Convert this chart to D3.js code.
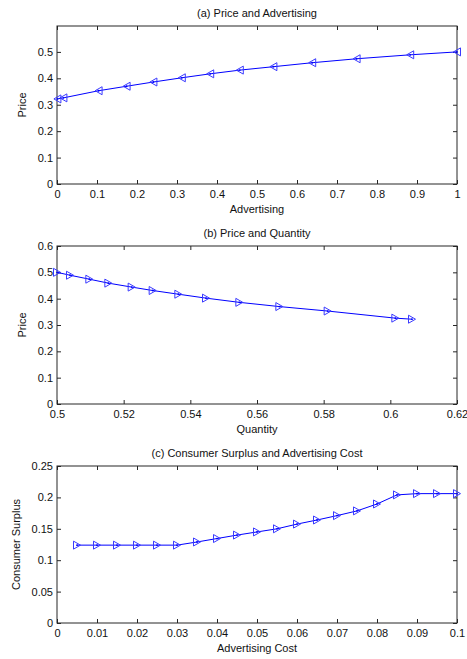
<!DOCTYPE html>
<html>
<head>
<meta charset="utf-8">
<script src="https://cdn.jsdelivr.net/npm/d3@7"></script>
<style>
  html, body { margin: 0; padding: 0; background: #fff; }
  svg { display: block; font-family: Arial, "Liberation Sans", sans-serif; }
</style>
</head>
<body>
<svg id="chart" width="467" height="659"></svg>
<script>
// Equilibrium path, ordered by advertising level
const advertising = [0.001, 0.016, 0.104, 0.174, 0.241, 0.312, 0.383, 0.457, 0.541, 0.638, 0.749, 0.883, 1.0];
const price       = [0.322, 0.326, 0.353, 0.370, 0.386, 0.402, 0.417, 0.431, 0.444, 0.459, 0.474, 0.489, 0.500];
const quantity    = [0.6065, 0.6015, 0.5812, 0.5667, 0.5547, 0.5447, 0.5364, 0.5287, 0.5224, 0.5154, 0.5097, 0.5039, 0.500];

// Consumer surplus against advertising cost
const adCost  = [0.005, 0.01, 0.015, 0.02, 0.025, 0.03, 0.035, 0.04, 0.045, 0.05,
                 0.055, 0.06, 0.065, 0.07, 0.075, 0.08, 0.085, 0.09, 0.095, 0.1];
const surplus = [0.124, 0.124, 0.124, 0.124, 0.124, 0.124, 0.129, 0.1345, 0.140, 0.145,
                 0.150, 0.1575, 0.164, 0.171, 0.1785, 0.1895, 0.204, 0.206, 0.206, 0.206];

// Tick values
const ticksAdvX = [0, 0.1, 0.2, 0.3, 0.4, 0.5, 0.6, 0.7, 0.8, 0.9, 1];
const ticksAdvY = [0, 0.1, 0.2, 0.3, 0.4, 0.5];
const ticksQtyX = [0.5, 0.52, 0.54, 0.56, 0.58, 0.6, 0.62];
const ticksQtyY = [0, 0.1, 0.2, 0.3, 0.4, 0.5, 0.6];
const ticksCostX = [0, 0.01, 0.02, 0.03, 0.04, 0.05, 0.06, 0.07, 0.08, 0.09, 0.1];
const ticksCostY = [0, 0.05, 0.1, 0.15, 0.2, 0.25];

const svg = d3.select("#chart");
const fmt = d => String(+d.toFixed(4));
const axisColor = "#262626";
const lineColor = "#0000ff";
const markColor = "#3a3aff";

function panel(cfg) {
  const g = svg.append("g");
  const x = d3.scaleLinear().domain(cfg.xDomain).range([57, 457]);
  const y = d3.scaleLinear().domain(cfg.yDomain).range([cfg.bottom, cfg.top]);
  const tl = 4;

  // bottom axis with labels, ticks pointing inward
  g.append("g").attr("transform", `translate(0,${cfg.bottom})`)
    .call(d3.axisBottom(x).tickValues(cfg.xTicks).tickSize(-tl).tickPadding(6).tickFormat(fmt))
    .call(a => a.select(".domain").remove());
  g.append("g").attr("transform", `translate(0,${cfg.top})`)
    .call(d3.axisTop(x).tickValues(cfg.xTicks).tickSize(-tl).tickFormat(""))
    .call(a => a.select(".domain").remove());
  g.append("g").attr("transform", "translate(57,0)")
    .call(d3.axisLeft(y).tickValues(cfg.yTicks).tickSize(-tl).tickPadding(4).tickFormat(fmt))
    .call(a => a.select(".domain").remove());
  g.append("g").attr("transform", "translate(457,0)")
    .call(d3.axisRight(y).tickValues(cfg.yTicks).tickSize(-tl).tickFormat(""))
    .call(a => a.select(".domain").remove());

  g.selectAll(".tick line").attr("stroke", axisColor);
  g.selectAll(".tick text").attr("fill", "#111").attr("font-size", 11)
    .attr("font-family", "Arial, 'Liberation Sans', sans-serif");

  // frame
  g.append("rect").attr("x", 57).attr("y", cfg.top)
    .attr("width", 400).attr("height", cfg.bottom - cfg.top)
    .attr("fill", "none").attr("stroke", axisColor).attr("stroke-width", 1);

  // data
  const pts = cfg.xs.map((v, i) => [v, cfg.ys[i]]);
  g.append("path").datum(pts)
    .attr("fill", "none").attr("stroke", lineColor).attr("stroke-width", 1)
    .attr("d", d3.line().x(d => x(d[0])).y(d => y(d[1])));

  const tri = cfg.dir === "left" ? "M3.5,-4L-3.5,0L3.5,4Z" : "M-3.5,-4L3.5,0L-3.5,4Z";
  g.selectAll("path.mk").data(pts).join("path").attr("class", "mk")
    .attr("transform", d => `translate(${x(d[0])},${y(d[1])})`)
    .attr("d", tri).attr("fill", "none").attr("stroke", markColor).attr("stroke-width", 1);
  g.selectAll("circle.pt").data(pts).join("circle").attr("class", "pt")
    .attr("cx", d => x(d[0])).attr("cy", d => y(d[1])).attr("r", 0.9).attr("fill", lineColor);

  // texts
  g.append("text").attr("x", 257).attr("y", cfg.top - 9).attr("text-anchor", "middle")
    .attr("font-size", 11).attr("fill", "#111").text(cfg.title);
  g.append("text").attr("x", 257).attr("y", cfg.bottom + 29).attr("text-anchor", "middle")
    .attr("font-size", 11).attr("fill", "#111").text(cfg.xLabel);
  g.append("text")
    .attr("transform", `translate(${cfg.yLabelX},${(cfg.top + cfg.bottom) / 2}) rotate(-90)`)
    .attr("text-anchor", "middle").attr("font-size", 11).attr("fill", "#111").text(cfg.yLabel);
}

panel({
  title: "(a) Price and Advertising", xLabel: "Advertising", yLabel: "Price",
  xDomain: [0, 1], yDomain: [0, 0.598], top: 26, bottom: 184,
  xTicks: ticksAdvX, yTicks: ticksAdvY, xs: advertising, ys: price, dir: "left", yLabelX: 26
});
panel({
  title: "(b) Price and Quantity", xLabel: "Quantity", yLabel: "Price",
  xDomain: [0.5, 0.62], yDomain: [0, 0.6], top: 246, bottom: 404,
  xTicks: ticksQtyX, yTicks: ticksQtyY, xs: quantity, ys: price, dir: "right", yLabelX: 26
});
panel({
  title: "(c) Consumer Surplus and Advertising Cost", xLabel: "Advertising Cost", yLabel: "Consumer Surplus",
  xDomain: [0, 0.1], yDomain: [0, 0.25], top: 466, bottom: 623,
  xTicks: ticksCostX, yTicks: ticksCostY, xs: adCost, ys: surplus, dir: "right", yLabelX: 20
});
</script>
</body>
</html>
